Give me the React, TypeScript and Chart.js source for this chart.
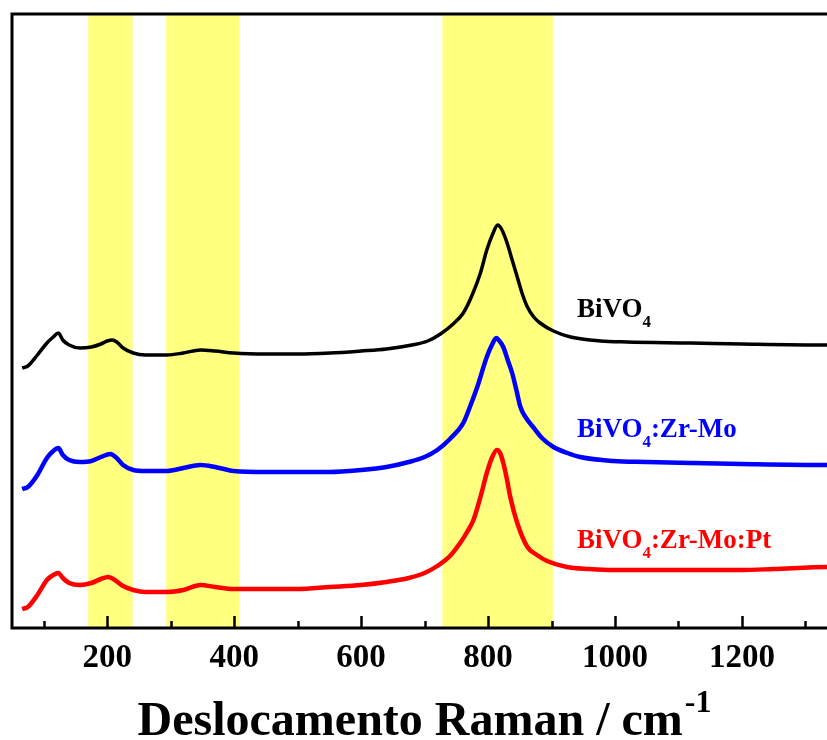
import { useEffect, useRef } from "react";
import { Chart, registerables } from "chart.js";

Chart.register(...registerables);

// Raman shift (cm-1) and intensity (a.u., offset-stacked)
const SHIFT_BIVO4 = [66, 75, 90, 105, 115, 123, 130, 140, 157, 175, 190, 200, 208, 215, 225, 241, 260, 294, 320, 347, 370, 399, 450, 500, 551, 600, 640, 680, 705, 725, 745, 761, 775, 788, 798, 808, 815, 822, 830, 838, 846, 854, 862, 872, 882, 903, 930, 977, 1019, 1119, 1200, 1334, 1360];
const INT_BIVO4 = [260, 262, 273, 285, 291, 295, 288, 283, 280, 281, 284, 287, 288, 286, 280, 275, 273, 273, 275, 278, 277, 275, 274, 274, 275, 277, 279, 283, 287, 294, 304, 315, 333, 355, 378, 395, 403, 398, 385, 368, 351, 334, 321, 311, 305, 297, 291, 287, 286, 285, 284, 283, 283];

const SHIFT_ZRMO = [66, 75, 90, 105, 115, 123, 130, 140, 157, 175, 190, 205, 215, 225, 241, 260, 294, 320, 347, 370, 399, 450, 500, 551, 600, 640, 675, 700, 720, 740, 761, 772, 783, 798, 806, 813, 818, 824, 831, 838, 845, 851, 860, 871, 885, 903, 925, 945, 997, 1050, 1119, 1200, 1334, 1360];
const INT_ZRMO = [139, 141, 153, 170, 177, 180, 173, 168, 166, 167, 171, 174, 170, 163, 158, 157, 157, 160, 163, 161, 157, 156, 156, 156, 158, 161, 166, 171, 178, 189, 205, 222, 241, 271, 283, 290, 287, 281, 268, 255, 237, 221, 210, 201, 190, 181, 175, 171, 167, 166, 165, 164, 163, 163];

const SHIFT_ZRMOPT = [66, 75, 90, 105, 115, 123, 130, 140, 157, 175, 190, 202, 212, 225, 241, 260, 294, 320, 347, 370, 399, 450, 500, 551, 600, 640, 675, 700, 720, 740, 756, 767, 777, 788, 798, 806, 814, 819, 824, 830, 835, 846, 862, 877, 893, 924, 960, 997, 1050, 1119, 1200, 1250, 1334, 1360];
const INT_ZRMOPT = [19, 21, 33, 48, 53, 55, 50, 45, 43, 45, 49, 51, 48, 42, 38, 36, 36, 38, 43, 41, 39, 39, 39, 41, 43, 46, 50, 55, 62, 72, 85, 96, 108, 131, 155, 170, 178, 175, 165, 148, 131, 105, 81, 73, 67, 61, 59, 58, 58, 58, 58, 59, 61, 61];

const SERIES_NAMES = ["BiVO4", "BiVO4:Zr-Mo", "BiVO4:Zr-Mo:Pt"];
const SERIES_COLORS = ["#000000", "#0000ff", "#ff0000"];

const MAJOR_TICKS = [200, 400, 600, 800, 1000, 1200];
const MINOR_TICKS = [100, 300, 500, 700, 900, 1100, 1300];

const BAND_START = [170, 293, 728];
const BAND_END = [240, 408, 902];

const X_TITLE = "Deslocamento Raman / cm";
const X_TITLE_SUP = "-1";

// label anchors (data units)
const LABEL_SHIFT = 940;
const LABEL_INT = [311, 191, 80];

const FONT = "'Liberation Serif', 'Times New Roman', serif";

function toPoints(xs: number[], ys: number[]) {
  return xs.map((x, i) => ({ x, y: ys[i] }));
}

const decorPlugin = {
  id: "decor",
  beforeDatasetsDraw(chart: any) {
    const { ctx, chartArea: a, scales } = chart;
    const x = scales.x;
    ctx.save();
    ctx.fillStyle = "#ffff80";
    BAND_START.forEach((s, i) => {
      const x0 = x.getPixelForValue(s);
      const x1 = x.getPixelForValue(BAND_END[i]);
      ctx.fillRect(x0, a.top, x1 - x0, a.bottom - a.top);
    });
    ctx.restore();
  },
  afterDatasetsDraw(chart: any) {
    const { ctx, chartArea: a, scales } = chart;
    const x = scales.x;
    const y = scales.y;
    ctx.save();
    // frame
    ctx.strokeStyle = "#000";
    ctx.lineWidth = 3;
    ctx.strokeRect(a.left, a.top, a.right - a.left, a.bottom - a.top);
    // inward ticks
    ctx.lineWidth = 2.5;
    ctx.beginPath();
    MAJOR_TICKS.forEach((v) => {
      const px = Math.round(x.getPixelForValue(v)) + 0.5;
      ctx.moveTo(px, a.bottom);
      ctx.lineTo(px, a.bottom - 12);
    });
    MINOR_TICKS.forEach((v) => {
      const px = Math.round(x.getPixelForValue(v)) + 0.5;
      ctx.moveTo(px, a.bottom);
      ctx.lineTo(px, a.bottom - 7);
    });
    ctx.stroke();

    // series labels with subscript
    ctx.textBaseline = "alphabetic";
    ctx.textAlign = "left";
    SERIES_NAMES.forEach((name, i) => {
      const m = name.match(/^([^0-9]*)([0-9]+)(.*)$/);
      const lx = x.getPixelForValue(LABEL_SHIFT);
      const ly = y.getPixelForValue(LABEL_INT[i]);
      ctx.fillStyle = SERIES_COLORS[i];
      if (m) {
        ctx.font = `bold 27px ${FONT}`;
        ctx.fillText(m[1], lx, ly);
        let cx = lx + ctx.measureText(m[1]).width;
        ctx.font = `bold 17px ${FONT}`;
        ctx.fillText(m[2], cx, ly + 10);
        cx += ctx.measureText(m[2]).width;
        ctx.font = `bold 27px ${FONT}`;
        ctx.fillText(m[3], cx, ly);
      } else {
        ctx.font = `bold 27px ${FONT}`;
        ctx.fillText(name, lx, ly);
      }
    });

    // axis title with superscript
    ctx.fillStyle = "#000";
    ctx.font = `bold 48px ${FONT}`;
    const w1 = ctx.measureText(X_TITLE).width;
    ctx.font = `bold 32px ${FONT}`;
    const w2 = ctx.measureText(X_TITLE_SUP).width;
    const start = 424.5 - (w1 + 2 + w2) / 2;
    ctx.font = `bold 48px ${FONT}`;
    ctx.fillText(X_TITLE, start, 735);
    ctx.font = `bold 32px ${FONT}`;
    ctx.fillText(X_TITLE_SUP, start + w1 + 2, 712);
    ctx.restore();
  },
};

export default function App() {
  const ref = useRef<HTMLCanvasElement | null>(null);
  useEffect(() => {
    if (!ref.current) return;
    const series = [
      toPoints(SHIFT_BIVO4, INT_BIVO4),
      toPoints(SHIFT_ZRMO, INT_ZRMO),
      toPoints(SHIFT_ZRMOPT, INT_ZRMOPT),
    ];
    const chart = new Chart(ref.current, {
      type: "line",
      data: {
        datasets: series.map((pts, i) => ({
          label: SERIES_NAMES[i],
          data: pts,
          borderColor: SERIES_COLORS[i],
          borderWidth: i === 0 ? 3.5 : 4.5,
          pointRadius: 0,
          fill: false,
          cubicInterpolationMode: "monotone",
        })),
      },
      options: {
        animation: false,
        responsive: false,
        devicePixelRatio: 1,
        layout: { padding: { left: 12, top: 14, right: 0, bottom: 0 } },
        plugins: { legend: { display: false }, tooltip: { enabled: false } },
        scales: {
          x: {
            type: "linear",
            min: 50,
            max: 1386,
            grid: { display: false, drawTicks: false },
            border: { display: false },
            afterBuildTicks: (scale: any) => {
              scale.ticks = MAJOR_TICKS.map((v) => ({ value: v }));
            },
            afterFit: (scale: any) => {
              scale.height = 112;
            },
            ticks: {
              color: "#000",
              padding: 11,
              maxRotation: 0,
              autoSkip: false,
              font: { family: FONT, size: 33, weight: "bold" },
              callback: (v: any) => String(v),
            },
          },
          y: {
            display: false,
            min: 0,
            max: 614,
          },
        },
      },
      plugins: [decorPlugin],
    } as any);
    return () => chart.destroy();
  }, []);
  return (
    <div style={{ position: "fixed", left: 0, top: 0, width: 827, height: 740, overflow: "hidden", background: "#fff" }}>
      <canvas ref={ref} width={860} height={740} style={{ width: 860, height: 740, display: "block" }} />
    </div>
  );
}
